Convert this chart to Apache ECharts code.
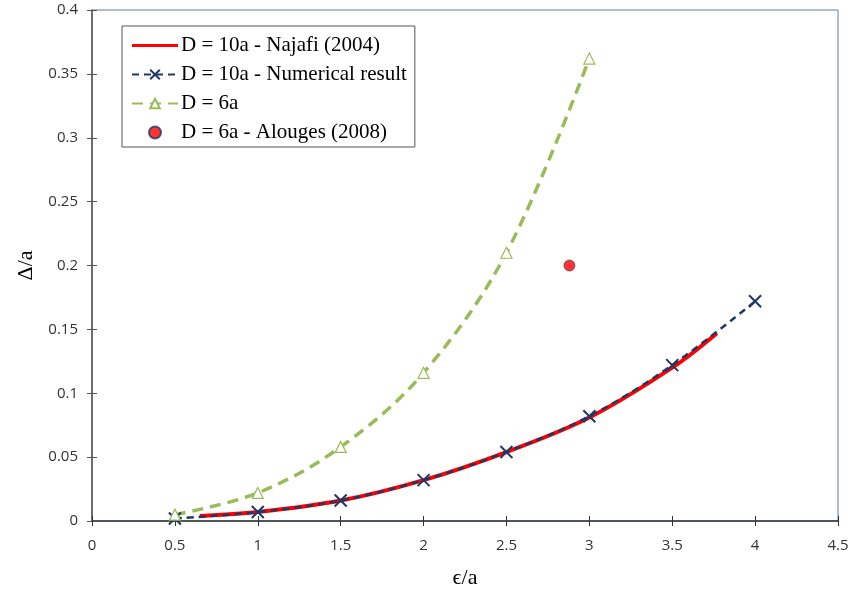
<!DOCTYPE html>
<html><head><meta charset="utf-8">
<script src="https://cdn.jsdelivr.net/npm/echarts@6/dist/echarts.min.js"></script>
<style>html,body{margin:0;padding:0;background:#fff}#c{width:853px;height:590px}</style>
</head><body><div id="c"></div>
<script>
const xTicks = [0, 0.5, 1, 1.5, 2, 2.5, 3, 3.5, 4, 4.5];
const yTicks = [0, 0.05, 0.1, 0.15, 0.2, 0.25, 0.3, 0.35, 0.4];

const najafiX = [0.65, 1, 1.5, 2, 2.5, 3, 3.5, 3.77];
const najafiY = [0.004, 0.007, 0.016, 0.032, 0.054, 0.081, 0.120, 0.147];

const numX = [0.5, 1, 1.5, 2, 2.5, 3, 3.5, 4];
const numY = [0.002, 0.007, 0.016, 0.032, 0.054, 0.082, 0.122, 0.172];

const d6X = [0.5, 1, 1.5, 2, 2.5, 3];
const d6Y = [0.005, 0.022, 0.058, 0.116, 0.210, 0.362];

const alougesX = [2.88];
const alougesY = [0.2];

const names = ['D = 10a - Najafi (2004)', 'D = 10a - Numerical result', 'D = 6a', 'D = 6a - Alouges (2008)'];

const zip = (a, b) => a.map((v, i) => [v, b[i]]);
const serif = '"Liberation Serif", "DejaVu Serif", serif';
const sans = '"Open Sans", "Liberation Sans", sans-serif';

const chart = echarts.init(document.getElementById('c'));
chart.setOption({
  animation: false,
  backgroundColor: '#fff',
  grid: { left: 92, right: 15, top: 10, bottom: 69, show: true, borderColor: '#5a7bb0', borderWidth: 1,
    containLabel: false, outerBoundsMode: 'none' },
  legend: {
    left: 122, top: 26, orient: 'vertical',
    borderColor: '#555', borderWidth: 1, padding: [9, 8, 4, 9],
    itemWidth: 46, itemHeight: 12, itemGap: 8,
    textStyle: { fontFamily: serif, fontSize: 21, color: '#000', padding: [0, 0, 0, -2] },
    data: [
      { name: names[0], icon: 'path://M0,0L0.01,0ZM0,4.6H46V7.4H0ZM0,12L0.01,12Z' },
      { name: names[1] },
      { name: names[2] },
      { name: names[3] }
    ]
  },
  xAxis: [{
    type: 'value', min: 0, max: 4.5, interval: 0.5,
    name: 'ϵ/a', nameLocation: 'middle', nameGap: 46,
    nameTextStyle: { fontFamily: serif, fontSize: 22, color: '#000' },
    axisLine: { lineStyle: { color: '#333', width: 1.5 } },
    axisTick: { length: 5, lineStyle: { color: '#333' } },
    axisLabel: { fontFamily: sans, fontSize: 15, color: '#333', margin: 17,
      formatter: v => String(v) },
    splitLine: { show: false }
  }, {
    type: 'value', min: 0, max: 4.5, interval: 0.5, position: 'bottom',
    axisLine: { show: false },
    axisTick: { inside: true, length: 5, lineStyle: { color: '#333' } },
    axisLabel: { show: false }, splitLine: { show: false }
  }],
  yAxis: [{
    type: 'value', min: 0, max: 0.4, interval: 0.05,
    name: 'Δ/a', nameLocation: 'middle', nameGap: 53,
    nameTextStyle: { fontFamily: serif, fontSize: 22, color: '#000' },
    axisLine: { show: true, lineStyle: { color: '#555', width: 1.5 } },
    axisTick: { show: true, length: 5, lineStyle: { color: '#555' } },
    axisLabel: { fontFamily: sans, fontSize: 15, color: '#333', margin: 14,
      formatter: v => String(+v.toFixed(2)) },
    splitLine: { show: false }
  }, {
    type: 'value', min: 0, max: 0.4, interval: 0.05, position: 'left',
    axisLine: { show: false },
    axisTick: { show: true, inside: true, length: 5, lineStyle: { color: '#555' } },
    axisLabel: { show: false }, splitLine: { show: false }
  }],
  series: [
    {
      name: names[0], type: 'line', smooth: 0.35, symbol: 'none', z: 2,
      data: zip(najafiX, najafiY),
      lineStyle: { color: '#ff0000', width: 4 }, itemStyle: { color: '#ff0000' }
    },
    {
      name: names[1], type: 'line', smooth: 0.35, z: 3,
      symbol: 'path://M0,0L10,10M10,0L0,10', symbolSize: 12, showAllSymbol: true,
      data: zip(numX, numY),
      lineStyle: { color: '#1f3864', width: 2.5, type: [7, 5] },
      itemStyle: { color: 'rgba(0,0,0,0)', borderColor: '#1f3864', borderWidth: 2 }
    },
    {
      name: names[2], type: 'line', smooth: 0.35, z: 3,
      symbol: 'triangle', symbolSize: 11,
      data: zip(d6X, d6Y),
      lineStyle: { color: '#9bbb59', width: 3.5, type: [11, 7] },
      itemStyle: { color: '#fff', borderColor: '#9bbb59', borderWidth: 1.2 }
    },
    {
      name: names[3], type: 'scatter', symbol: 'circle', symbolSize: 11, z: 4,
      data: zip(alougesX, alougesY),
      itemStyle: { color: '#ff0000', borderColor: '#1f3864', borderWidth: 0.8 }
    }
  ]
});
</script></body></html>
